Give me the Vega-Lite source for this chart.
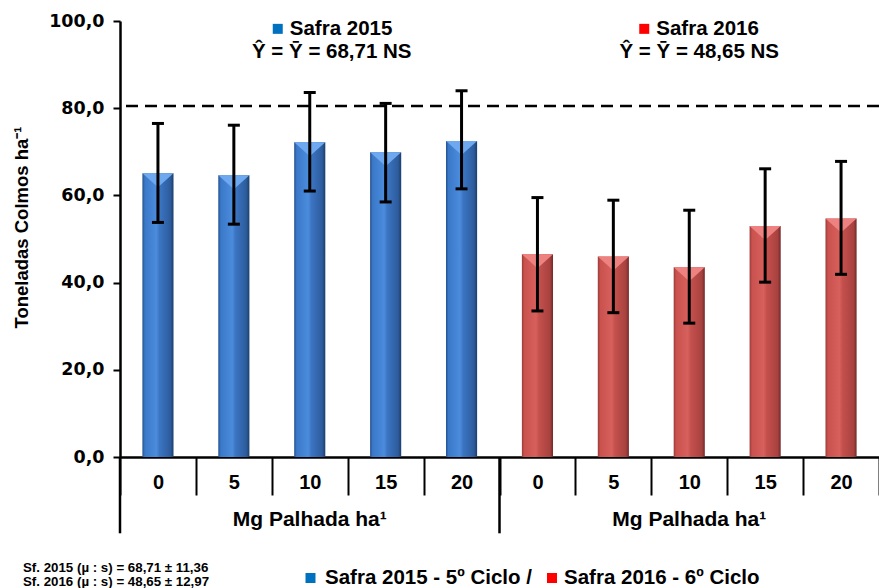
{
  "$schema": "https://vega.github.io/schema/vega-lite/v6.json",
  "width": 759,
  "height": 436,
  "autosize": {"type": "none"},
  "padding": {"left": 120, "top": 21, "right": 0, "bottom": 131},
  "background": "white",
  "config": {"view": {"stroke": null}, "font": "Liberation Sans"},
  "datasets": {
    "bars": [
      {"safra": "2015", "dose": "0", "cat": "2015-0", "value": 65.1, "lo": 53.8, "hi": 76.5},
      {"safra": "2015", "dose": "5", "cat": "2015-5", "value": 64.6, "lo": 53.4, "hi": 76.1},
      {"safra": "2015", "dose": "10", "cat": "2015-10", "value": 72.2, "lo": 61.0, "hi": 83.6},
      {"safra": "2015", "dose": "15", "cat": "2015-15", "value": 69.9, "lo": 58.5, "hi": 81.1},
      {"safra": "2015", "dose": "20", "cat": "2015-20", "value": 72.5, "lo": 61.5, "hi": 84.0},
      {"safra": "2016", "dose": "0", "cat": "2016-0", "value": 46.5, "lo": 33.5, "hi": 59.5},
      {"safra": "2016", "dose": "5", "cat": "2016-5", "value": 46.0, "lo": 33.1, "hi": 58.9},
      {"safra": "2016", "dose": "10", "cat": "2016-10", "value": 43.5, "lo": 30.7, "hi": 56.6},
      {"safra": "2016", "dose": "15", "cat": "2016-15", "value": 53.0, "lo": 40.1, "hi": 66.1},
      {"safra": "2016", "dose": "20", "cat": "2016-20", "value": 54.7, "lo": 41.9, "hi": 67.8}
    ],
    "ref": [{"value": 80.5}],
    "groups": [
      {"start": "2015-0", "center": "2015-10", "label": "Mg Palhada ha¹"},
      {"start": "2016-0", "center": "2016-10", "label": "Mg Palhada ha¹"}
    ],
    "notes": [
      {"safra": "2015", "cat": "2015-10", "title": "Safra 2015", "eq": "Ŷ = Ȳ = 68,71 NS"},
      {"safra": "2016", "cat": "2016-10", "title": "Safra 2016", "eq": "Ŷ = Ȳ = 48,65 NS"}
    ],
    "footer": [
      {"cat": "2015-0", "stats": ["Sf. 2015 (µ : s) = 68,71 ± 11,36", "Sf. 2016 (µ : s) = 48,65 ± 12,97"], "leg1": "Safra 2015 - 5º Ciclo /", "leg2": "Safra 2016 - 6º Ciclo"}
    ]
  },
  "layer": [
    {
      "data": {"name": "bars"},
      "transform": [{"filter": "datum.safra == '2015'"}],
      "mark": {
        "type": "bar",
        "width": {"band": 0.41},
        "fill": {"gradient": "linear", "x1": 0, "y1": 0, "x2": 1, "y2": 0, "stops": [
          {"offset": 0, "color": "#24508c"},
          {"offset": 0.08, "color": "#3a78c8"},
          {"offset": 0.45, "color": "#4c8cdc"},
          {"offset": 0.55, "color": "#3b75c2"},
          {"offset": 0.9, "color": "#2d5c9c"},
          {"offset": 1, "color": "#1c3d6a"}
        ]}
      },
      "encoding": {
        "x": {
          "field": "cat", "type": "nominal", "sort": null,
          "scale": {"domain": ["2015-0", "2015-5", "2015-10", "2015-15", "2015-20", "2016-0", "2016-5", "2016-10", "2016-15", "2016-20"], "paddingInner": 0, "paddingOuter": 0},
          "axis": {
            "title": null, "labelExpr": "split(datum.label, '-')[1]", "labelAngle": 0,
            "labelFont": "Liberation Sans", "labelFontSize": 20, "labelFontWeight": "bold", "labelColor": "black",
            "labelBaseline": "middle", "labelPadding": -13,
            "tickBand": "extent", "tickSize": 38, "tickWidth": 2, "tickColor": "black",
            "domainColor": "black", "domainWidth": 2.5, "grid": false
          }
        },
        "y": {
          "field": "value", "type": "quantitative",
          "title": "Toneladas Colmos ha⁻¹",
          "scale": {"domain": [0, 100], "nice": false},
          "axis": {
            "title": "Toneladas Colmos ha⁻¹", "values": [0, 20, 40, 60, 80, 100],
            "labelExpr": "replace(format(datum.value, '.1f'), '.', ',')",
            "labelFont": "DejaVu Sans", "labelFontSize": 17.5, "labelFontWeight": "bold", "labelColor": "black",
            "labelPadding": 9, "tickSize": 7, "tickWidth": 2, "tickColor": "black",
            "domainColor": "black", "domainWidth": 2.5, "grid": false,
            "titleFont": "Liberation Sans", "titleFontSize": 18.5, "titleFontWeight": "bold", "titleColor": "black",
            "titleX": -99, "titleY": 206, "titleAngle": -90, "titleBaseline": "middle", "titleAlign": "center"
          }
        }
      }
    },
    {
      "data": {"name": "bars"},
      "transform": [{"filter": "datum.safra == '2016'"}],
      "mark": {
        "type": "bar",
        "width": {"band": 0.41},
        "fill": {"gradient": "linear", "x1": 0, "y1": 0, "x2": 1, "y2": 0, "stops": [
          {"offset": 0, "color": "#9a3a37"},
          {"offset": 0.08, "color": "#c9524e"},
          {"offset": 0.45, "color": "#d8605c"},
          {"offset": 0.55, "color": "#c4504c"},
          {"offset": 0.9, "color": "#a8423f"},
          {"offset": 1, "color": "#72292a"}
        ]}
      },
      "encoding": {
        "x": {"field": "cat", "type": "nominal"},
        "y": {"field": "value", "type": "quantitative"}
      }
    },
    {
      "data": {"name": "bars"},
      "mark": {"type": "point", "shape": "M -1 0 L 1 0 L 0 0.9 Z", "size": 967, "filled": true, "opacity": 1, "strokeWidth": 0},
      "encoding": {
        "x": {"field": "cat", "type": "nominal"},
        "y": {"field": "value", "type": "quantitative"},
        "color": {"field": "safra", "type": "nominal", "scale": {"domain": ["2015", "2016"], "range": ["#6ea8ee", "#ee8280"]}, "legend": null}
      }
    },
    {
      "data": {"name": "ref"},
      "mark": {"type": "rule", "strokeDash": [12, 7], "strokeWidth": 2.5, "color": "black"},
      "encoding": {"y": {"field": "value", "type": "quantitative"}}
    },
    {
      "data": {"name": "bars"},
      "mark": {"type": "rule", "strokeWidth": 3, "color": "black"},
      "encoding": {
        "x": {"field": "cat", "type": "nominal"},
        "y": {"field": "lo", "type": "quantitative"},
        "y2": {"field": "hi"}
      }
    },
    {
      "data": {"name": "bars"},
      "mark": {"type": "tick", "orient": "horizontal", "size": 12, "thickness": 3, "color": "black", "opacity": 1},
      "encoding": {
        "x": {"field": "cat", "type": "nominal"},
        "y": {"field": "lo", "type": "quantitative"}
      }
    },
    {
      "data": {"name": "bars"},
      "mark": {"type": "tick", "orient": "horizontal", "size": 12, "thickness": 3, "color": "black", "opacity": 1},
      "encoding": {
        "x": {"field": "cat", "type": "nominal"},
        "y": {"field": "hi", "type": "quantitative"}
      }
    },
    {
      "data": {"name": "groups"},
      "mark": {"type": "rule", "strokeWidth": 2.5, "color": "black"},
      "encoding": {
        "x": {"field": "start", "type": "nominal", "bandPosition": 0},
        "y": {"datum": 0},
        "y2": {"datum": -17.5}
      }
    },
    {
      "data": {"name": "groups"},
      "mark": {"type": "text", "font": "Liberation Sans", "fontSize": 21, "fontWeight": "bold", "color": "black", "baseline": "middle", "align": "center"},
      "encoding": {
        "x": {"field": "center", "type": "nominal"},
        "y": {"datum": -14.4},
        "text": {"field": "label"}
      }
    },
    {
      "data": {"name": "notes"},
      "transform": [{"filter": "datum.safra == '2015'"}],
      "mark": {"type": "point", "shape": "square", "filled": true, "size": 100, "color": "#0070c0", "opacity": 1, "xOffset": -32},
      "encoding": {"x": {"field": "cat", "type": "nominal"}, "y": {"datum": 98.2}}
    },
    {
      "data": {"name": "notes"},
      "transform": [{"filter": "datum.safra == '2015'"}],
      "mark": {"type": "text", "fontSize": 20.5, "fontWeight": "bold", "color": "black", "align": "left", "baseline": "middle", "dx": -20},
      "encoding": {"x": {"field": "cat", "type": "nominal"}, "y": {"datum": 98.2}, "text": {"field": "title"}}
    },
    {
      "data": {"name": "notes"},
      "transform": [{"filter": "datum.safra == '2015'"}],
      "mark": {"type": "text", "fontSize": 20.5, "fontWeight": "bold", "color": "black", "align": "center", "baseline": "middle", "dx": 22},
      "encoding": {"x": {"field": "cat", "type": "nominal"}, "y": {"datum": 92.9}, "text": {"field": "eq"}}
    },
    {
      "data": {"name": "notes"},
      "transform": [{"filter": "datum.safra == '2016'"}],
      "mark": {"type": "point", "shape": "square", "filled": true, "size": 100, "color": "#ff0000", "opacity": 1, "xOffset": -45},
      "encoding": {"x": {"field": "cat", "type": "nominal"}, "y": {"datum": 98.2}}
    },
    {
      "data": {"name": "notes"},
      "transform": [{"filter": "datum.safra == '2016'"}],
      "mark": {"type": "text", "fontSize": 20.5, "fontWeight": "bold", "color": "black", "align": "left", "baseline": "middle", "dx": -33},
      "encoding": {"x": {"field": "cat", "type": "nominal"}, "y": {"datum": 98.2}, "text": {"field": "title"}}
    },
    {
      "data": {"name": "notes"},
      "transform": [{"filter": "datum.safra == '2016'"}],
      "mark": {"type": "text", "fontSize": 20.5, "fontWeight": "bold", "color": "black", "align": "center", "baseline": "middle", "dx": 10},
      "encoding": {"x": {"field": "cat", "type": "nominal"}, "y": {"datum": 92.9}, "text": {"field": "eq"}}
    },
    {
      "data": {"name": "footer"},
      "mark": {"type": "text", "fontSize": 13.3, "fontWeight": "bold", "color": "black", "align": "left", "baseline": "middle", "lineHeight": 14.5, "dx": -97},
      "encoding": {"x": {"field": "cat", "type": "nominal", "bandPosition": 0}, "y": {"datum": -25.4}, "text": {"field": "stats"}}
    },
    {
      "data": {"name": "footer"},
      "mark": {"type": "point", "shape": "square", "filled": true, "size": 100, "color": "#0070c0", "opacity": 1, "xOffset": 190.5},
      "encoding": {"x": {"field": "cat", "type": "nominal", "bandPosition": 0}, "y": {"datum": -27.75}}
    },
    {
      "data": {"name": "footer"},
      "mark": {"type": "text", "fontSize": 20.5, "fontWeight": "bold", "color": "black", "align": "left", "baseline": "middle", "dx": 205},
      "encoding": {"x": {"field": "cat", "type": "nominal", "bandPosition": 0}, "y": {"datum": -27.75}, "text": {"field": "leg1"}}
    },
    {
      "data": {"name": "footer"},
      "mark": {"type": "point", "shape": "square", "filled": true, "size": 100, "color": "#ff0000", "opacity": 1, "xOffset": 432},
      "encoding": {"x": {"field": "cat", "type": "nominal", "bandPosition": 0}, "y": {"datum": -27.75}}
    },
    {
      "data": {"name": "footer"},
      "mark": {"type": "text", "fontSize": 20.5, "fontWeight": "bold", "color": "black", "align": "left", "baseline": "middle", "dx": 444},
      "encoding": {"x": {"field": "cat", "type": "nominal", "bandPosition": 0}, "y": {"datum": -27.75}, "text": {"field": "leg2"}}
    }
  ]
}
